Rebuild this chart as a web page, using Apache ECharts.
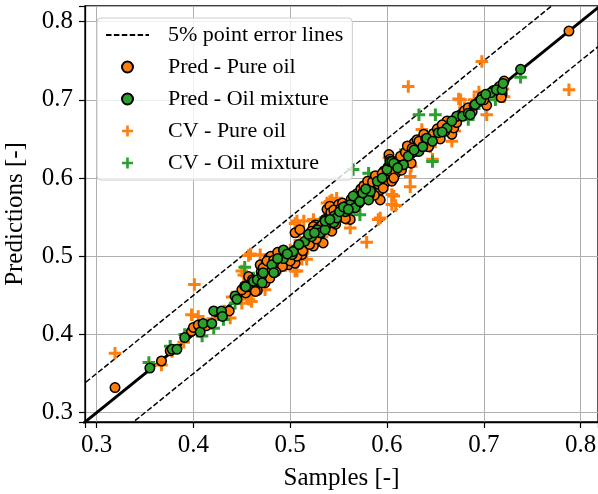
<!DOCTYPE html>
<html>
<head>
<meta charset="utf-8">
<script src="https://cdn.jsdelivr.net/npm/echarts@6/dist/echarts.min.js"></script>
<style>html,body{margin:0;padding:0;background:#fff}#chart{width:598px;height:494px}</style>
</head>
<body>
<div id="chart"></div>
<script>
// ---- data ----
const seriesNames = ['5% point error lines', 'Pred - Pure oil', 'Pred - Oil mixture', 'CV - Pure oil', 'CV - Oil mixture'];
const errorBand = 0.05;
const lineExtent = [0.2, 0.9];

const predPure = [
[0.319,0.332],[0.367,0.366],[0.376,0.379],[0.398,0.404],[0.400,0.409],[0.405,0.412],[0.413,0.411],[0.437,0.430],
[0.451,0.458],[0.454,0.453],[0.456,0.461],[0.457,0.474],[0.466,0.456],[0.464,0.455],[0.450,0.457],[0.474,0.466],
[0.469,0.489],[0.475,0.490],[0.478,0.498],[0.480,0.500],[0.481,0.483],[0.485,0.488],[0.490,0.498],[0.495,0.491],
[0.498,0.489],[0.505,0.491],[0.505,0.508],[0.505,0.530],[0.510,0.534],[0.515,0.515],[0.524,0.513],[0.526,0.540],
[0.531,0.528],[0.534,0.517],[0.524,0.538],[0.526,0.530],[0.536,0.547],[0.538,0.560],[0.540,0.549],[0.541,0.564],
[0.543,0.532],[0.550,0.566],[0.555,0.553],[0.562,0.547],[0.571,0.568],[0.574,0.579],[0.579,0.585],[0.590,0.601],
[0.593,0.585],[0.593,0.572],[0.598,0.594],[0.597,0.609],[0.602,0.630],[0.603,0.624],[0.605,0.596],[0.609,0.606],
[0.617,0.624],[0.622,0.630],[0.628,0.645],[0.629,0.634],[0.631,0.649],[0.636,0.641],[0.638,0.656],[0.662,0.673],
[0.667,0.656],[0.669,0.664],[0.676,0.681],[0.688,0.685],[0.695,0.698],[0.698,0.704],[0.703,0.693],[0.719,0.708],
[0.721,0.724],[0.788,0.788],[0.512,0.502],[0.519,0.524],[0.547,0.541],[0.558,0.561],[0.565,0.572],[0.583,0.590],
[0.587,0.578],[0.612,0.615],[0.615,0.610],[0.625,0.619],[0.645,0.652],[0.655,0.650],[0.502,0.499],[0.487,0.505],
[0.470,0.480],[0.461,0.470],
[0.472,0.485],[0.476,0.494],[0.483,0.495],[0.488,0.492],[0.492,0.487],[0.497,0.497],[0.500,0.494],[0.485,0.480],
[0.479,0.472],[0.507,0.500],[0.509,0.512],[0.513,0.507],[0.517,0.519],[0.520,0.515],[0.522,0.532],[0.527,0.522],
[0.529,0.536],[0.533,0.540],[0.537,0.539],[0.539,0.543],[0.542,0.556],[0.545,0.559],[0.548,0.553],[0.552,0.561],
[0.554,0.568],[0.557,0.548],[0.559,0.565],[0.563,0.573],[0.566,0.566],[0.569,0.580],[0.573,0.586],[0.576,0.590],
[0.580,0.596],[0.582,0.579],[0.585,0.595],[0.588,0.603],[0.591,0.592],[0.595,0.606],[0.596,0.587],[0.601,0.614],
[0.604,0.608],[0.607,0.600],[0.611,0.622],[0.614,0.628],[0.619,0.633],[0.621,0.641],[0.626,0.638],[0.633,0.647],
[0.640,0.650],[0.643,0.640],[0.648,0.657],[0.652,0.663],[0.657,0.668],[0.660,0.660],[0.672,0.671],[0.680,0.686],
[0.684,0.690],[0.700,0.700],[0.710,0.712],[0.716,0.717],[0.718,0.703]
];

const predMix = [
[0.355,0.357],[0.378,0.381],[0.383,0.381],[0.391,0.396],[0.407,0.403],[0.410,0.414],[0.419,0.414],[0.421,0.430],
[0.429,0.430],[0.430,0.423],[0.443,0.449],[0.445,0.445],[0.453,0.462],[0.454,0.461],[0.462,0.468],[0.466,0.470],
[0.471,0.476],[0.471,0.466],[0.472,0.479],[0.481,0.489],[0.483,0.479],[0.493,0.497],[0.493,0.508],[0.502,0.502],
[0.503,0.506],[0.515,0.519],[0.522,0.525],[0.528,0.534],[0.531,0.530],[0.536,0.534],[0.536,0.545],[0.545,0.543],
[0.545,0.551],[0.548,0.549],[0.557,0.557],[0.562,0.566],[0.565,0.577],[0.567,0.562],[0.572,0.570],[0.581,0.572],
[0.583,0.583],[0.600,0.611],[0.603,0.621],[0.605,0.621],[0.607,0.619],[0.617,0.617],[0.633,0.634],[0.641,0.651],
[0.647,0.647],[0.653,0.658],[0.662,0.664],[0.672,0.679],[0.678,0.679],[0.684,0.683],[0.686,0.681],[0.690,0.693],
[0.691,0.694],[0.707,0.709],[0.713,0.713],[0.719,0.713],[0.720,0.721],[0.738,0.739],
[0.487,0.497],[0.497,0.503],[0.509,0.515],[0.519,0.528],[0.525,0.530],[0.541,0.547],[0.551,0.557],[0.555,0.563],
[0.560,0.560],[0.575,0.581],[0.578,0.586],[0.590,0.596],[0.595,0.600],[0.611,0.613],[0.622,0.628],[0.628,0.636],
[0.637,0.640],[0.657,0.659],[0.667,0.673],[0.697,0.700],[0.702,0.707]
];

const cvPure = [
[0.319,0.376],[0.367,0.361],[0.378,0.378],[0.398,0.425],[0.401,0.464],[0.405,0.423],[0.410,0.413],[0.438,0.421],
[0.450,0.481],[0.452,0.476],[0.457,0.445],[0.460,0.442],[0.457,0.501],[0.459,0.503],[0.469,0.502],[0.474,0.457],
[0.505,0.481],[0.507,0.481],[0.512,0.496],[0.517,0.496],[0.505,0.542],[0.507,0.545],[0.514,0.545],[0.524,0.547],
[0.538,0.568],[0.541,0.570],[0.543,0.572],[0.538,0.549],[0.548,0.574],[0.562,0.536],[0.579,0.518],[0.591,0.547],
[0.593,0.549],[0.584,0.596],[0.578,0.594],[0.605,0.579],[0.607,0.577],[0.605,0.566],[0.609,0.565],[0.602,0.626],
[0.624,0.602],[0.624,0.589],[0.622,0.717],[0.636,0.662],[0.647,0.624],[0.667,0.647],[0.674,0.701],[0.676,0.700],
[0.698,0.749],[0.703,0.681],[0.721,0.704],[0.788,0.713],[0.480,0.490],[0.490,0.500],[0.520,0.530],[0.530,0.535],
[0.550,0.555],[0.560,0.560],[0.570,0.575],[0.585,0.580],[0.600,0.600],[0.615,0.620],[0.630,0.640],[0.640,0.645],
[0.655,0.660],[0.660,0.670],[0.680,0.690],[0.695,0.710],[0.720,0.714],[0.440,0.448],[0.465,0.460],[0.420,0.420],
[0.475,0.478],[0.485,0.495],[0.495,0.488],[0.500,0.508],[0.510,0.520],[0.518,0.510],[0.525,0.540],[0.533,0.525],
[0.545,0.550],[0.553,0.566],[0.558,0.548],[0.565,0.568],[0.575,0.585],[0.580,0.575],[0.590,0.600],[0.595,0.585],
[0.610,0.612],[0.620,0.630],[0.625,0.615],[0.635,0.650],[0.645,0.640],[0.650,0.660],[0.665,0.672],[0.670,0.660],
[0.690,0.700],[0.710,0.710],[0.450,0.440],[0.460,0.450],[0.432,0.430],[0.390,0.390]
];

const cvMix = [
[0.354,0.364],[0.376,0.385],[0.391,0.400],[0.409,0.398],[0.421,0.408],[0.431,0.419],[0.443,0.440],[0.453,0.486],
[0.472,0.474],[0.485,0.480],[0.500,0.500],[0.515,0.512],[0.536,0.549],[0.548,0.545],[0.565,0.611],[0.572,0.553],
[0.581,0.606],[0.585,0.583],[0.600,0.605],[0.619,0.636],[0.633,0.681],[0.647,0.621],[0.650,0.681],[0.660,0.660],
[0.684,0.675],[0.712,0.700],[0.717,0.709],[0.738,0.729],
[0.462,0.472],[0.490,0.490],[0.505,0.510],[0.520,0.520],[0.530,0.540],[0.555,0.560],[0.560,0.555],[0.575,0.575],
[0.590,0.590],[0.610,0.615],[0.625,0.630],[0.640,0.645],[0.660,0.665],[0.675,0.680],[0.695,0.695],[0.700,0.705]
];

// ---- chart ----
const ORANGE = '#ff7f0e', GREEN = '#2ca02c';
const FONT = 'Liberation Serif';
const PLUS = 'path://M3.8,0h2.4v3.8h3.8v2.4h-3.8v3.8h-2.4v-3.8h-3.8v-2.4h3.8z';
const diag = lineExtent.map(v => [v, v]);
const upper = lineExtent.map(v => [v, v + errorBand]);
const lower = lineExtent.map(v => [v, v - errorBand]);
const fmt = v => (Math.abs(v * 10 - Math.round(v * 10)) < 1e-6 ? v.toFixed(1) : '');

const axisCommon = {
  type: 'value',
  splitNumber: 5,
  axisLine: { show: true, onZero: false, lineStyle: { color: '#000', width: 1.3 } },
  axisTick: { show: true, length: 6, lineStyle: { color: '#000', width: 1.2 } },
  splitLine: { show: true, lineStyle: { color: '#b0b0b0', width: 1 } },
  nameLocation: 'middle',
  nameTextStyle: { fontFamily: FONT, fontSize: 25, color: '#000' },
  axisLabel: { fontFamily: FONT, fontSize: 25, color: '#000', formatter: fmt, hideOverlap: false }
};

const chart = echarts.init(document.getElementById('chart'), null, { renderer: 'canvas' });
chart.setOption({
  animation: false,
  backgroundColor: '#fff',
  grid: { left: 85, right: 0, top: 6, bottom: 72, show: true, borderColor: '#000', borderWidth: 1.3,
          backgroundColor: 'transparent', outerBoundsMode: 'none', containLabel: false },
  xAxis: Object.assign({}, axisCommon, {
    min: 0.288, max: 0.818, name: 'Samples [-]', nameGap: 44,
    axisLabel: Object.assign({}, axisCommon.axisLabel, { margin: 11 })
  }),
  yAxis: Object.assign({}, axisCommon, {
    min: 0.288, max: 0.82, name: 'Predictions [-]', nameGap: 57,
    axisLabel: Object.assign({}, axisCommon.axisLabel, { margin: 12 })
  }),
  legend: {
    data: [
      { name: seriesNames[0], itemStyle: { color: 'rgba(0,0,0,0)', borderColor: 'rgba(0,0,0,0)', borderWidth: 0 } },
      { name: seriesNames[1], icon: 'circle' },
      { name: seriesNames[2], icon: 'circle' },
      { name: seriesNames[3], icon: PLUS },
      { name: seriesNames[4], icon: PLUS }
    ],
    orient: 'vertical',
    left: 97, top: 18,
    padding: [6, 9, 6, 8],
    itemWidth: 43, itemHeight: 11, itemGap: 10,
    backgroundColor: 'rgba(255,255,255,0.8)',
    borderColor: '#cccccc', borderWidth: 1, borderRadius: 4,
    textStyle: { fontFamily: FONT, fontSize: 22, color: '#000', lineHeight: 22, padding: [0, 0, 0, 14] },
    z: 10
  },
  series: [
    { name: seriesNames[0], type: 'line', data: upper, symbol: 'none', z: 1, silent: true,
      lineStyle: { color: '#000', width: 1.5, type: [5.5, 2.4] }, itemStyle: { color: 'rgba(0,0,0,0)' } },
    { name: seriesNames[0], type: 'line', data: lower, symbol: 'none', z: 1, silent: true,
      lineStyle: { color: '#000', width: 1.5, type: [5.5, 2.4] }, itemStyle: { color: 'rgba(0,0,0,0)' } },
    { name: 'identity', type: 'line', data: diag, symbol: 'none', z: 1, silent: true,
      lineStyle: { color: '#000', width: 3 } },
    { name: seriesNames[3], type: 'scatter', data: cvPure, symbol: PLUS, symbolSize: 12.5, z: 2,
      itemStyle: { color: ORANGE, opacity: 1 } },
    { name: seriesNames[4], type: 'scatter', data: cvMix, symbol: PLUS, symbolSize: 12.5, z: 2,
      itemStyle: { color: GREEN, opacity: 1 } },
    { name: seriesNames[1], type: 'scatter', data: predPure, symbol: 'circle', symbolSize: 9.5, z: 3,
      itemStyle: { color: ORANGE, borderColor: '#000', borderWidth: 1.5, opacity: 1 } },
    { name: seriesNames[2], type: 'scatter', data: predMix, symbol: 'circle', symbolSize: 9.5, z: 3,
      itemStyle: { color: GREEN, borderColor: '#000', borderWidth: 1.5, opacity: 1 } }
  ]
});
</script>
</body>
</html>
